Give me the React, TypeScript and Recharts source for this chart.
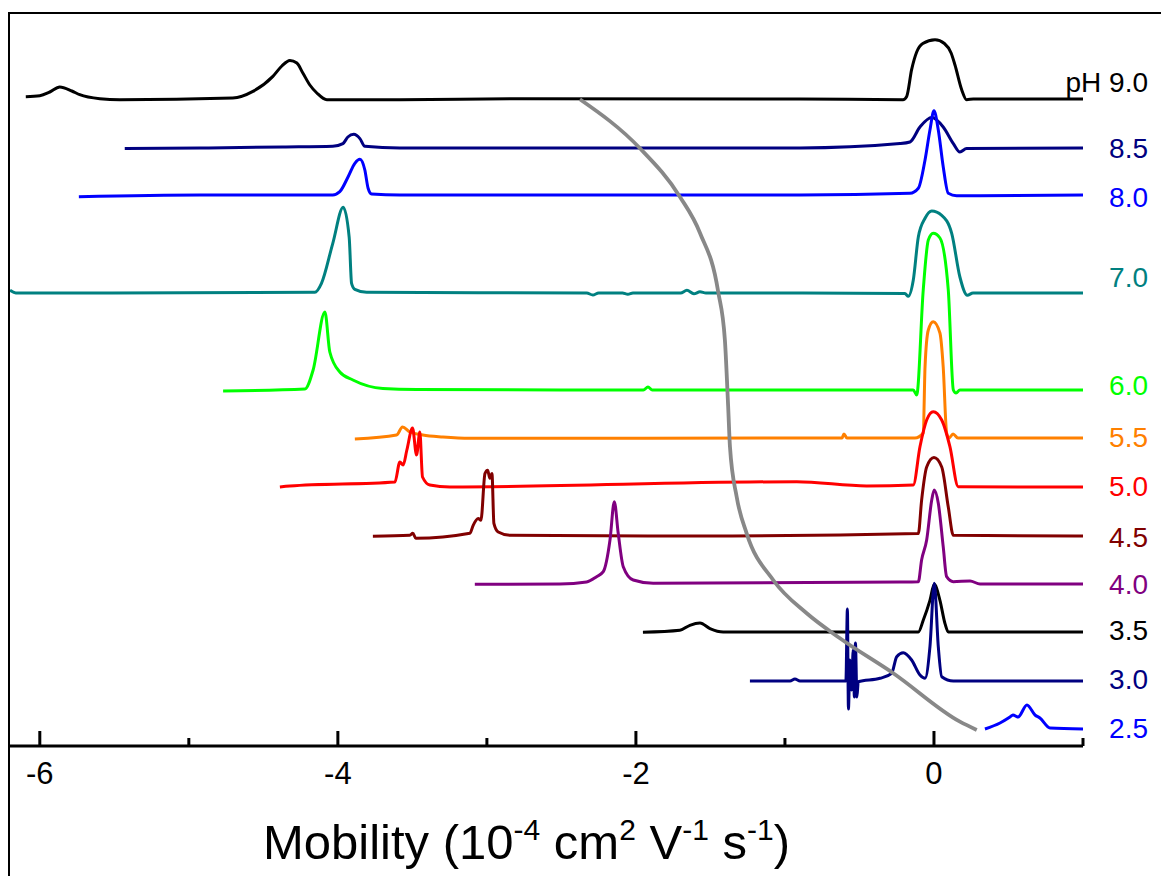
import { LineChart, Line, XAxis, YAxis, ReferenceDot } from "recharts"

// each trace: [mobility, signal above its own baseline]
const ph90: [number, number][] = [
  [-6.094, 2.3], [-6.0, 3.3], [-5.933, 7], [-5.866, 12], [-5.785, 8], [-5.732, 4.3], [-5.597, 0.3],
  [-5.463, -0.7], [-4.705, 1], [-4.57, 7.6], [-4.436, 22.6], [-4.376, 33], [-4.322, 38.6], [-4.275, 36],
  [-4.235, 26], [-4.188, 14], [-4.141, 6], [-4.074, -0.7], [-3.584, -0.7], [-2.779, 0.3], [-0.899, 0],
  [-0.208, -0.7], [-0.183, 2.6], [-0.15, 29.3], [-0.116, 47], [-0.075, 55.5], [0.007, 59.3],
  [0.07, 55.5], [0.115, 46], [0.141, 34], [0.186, 9.3], [0.219, -0.7], [0.264, 0], [1.0, 0],
]
const ph85: [number, number][] = [
  [-5.43, -0.6], [-4.926, 0], [-4.369, 1], [-4.034, 1.7], [-3.966, 4.4], [-3.933, 11], [-3.893, 13.7],
  [-3.852, 9.4], [-3.819, 1.7], [-3.584, 0], [-0.899, 0], [-0.228, 4.4], [-0.161, 6], [-0.094, 21],
  [-0.015, 30.4], [0.062, 21], [0.13, 4.4], [0.174, -4], [0.219, -0.6], [1.0, 0],
]
const ph80: [number, number][] = [
  [-5.738, -1.7], [-4.926, 0], [-4.034, 0], [-3.987, 3.3], [-3.931, 18.3], [-3.886, 31.7], [-3.852, 35.7],
  [-3.819, 25], [-3.797, 6.7], [-3.774, 1], [-3.584, 0], [-0.899, 0], [-0.161, 1.7], [-0.105, 6.7],
  [-0.06, 35], [-0.027, 65], [0, 84.3], [0.029, 65], [0.062, 28.3], [0.096, 1.7], [0.152, -0.7], [1.0, 0],
]
const ph70: [number, number][] = [
  [-6.2, 2.7], [-6.161, 0], [-4.154, 0.7], [-4.11, 9.7], [-4.034, 49.7], [-3.964, 85.7], [-3.924, 55.7],
  [-3.908, 9.7], [-3.886, 3.7], [-3.807, 0.7], [-2.33, 0], [-2.289, -2], [-2.25, 0], [-2.09, 0],
  [-2.054, -1.3], [-2.02, 0], [-1.7, 0], [-1.658, 2.7], [-1.611, -0.8], [-1.57, 1.2], [-1.53, 0],
  [-0.899, 0], [-0.195, -0.6], [-0.172, -3.3], [-0.139, 12.7], [-0.105, 56], [-0.06, 74.7],
  [-0.015, 82], [0.052, 77.7], [0.119, 59.7], [0.174, 16], [0.224, -2.3], [0.262, 0], [1.0, 0],
]
const ph60: [number, number][] = [
  [-4.77, -1], [-4.221, 1], [-4.166, 20], [-4.087, 78], [-4.054, 38], [-3.987, 18], [-3.899, 10],
  [-3.698, 1.5], [-3.472, 0.5], [-1.95, 0], [-1.919, 3], [-1.89, 0], [-0.899, 0], [-0.139, 0],
  [-0.116, -5], [-0.072, 100], [-0.038, 150], [-0.005, 156.7], [0.04, 152], [0.096, 100], [0.13, 0],
  [0.148, -3], [0.174, 0], [1.0, 0],
]
const ph55: [number, number][] = [
  [-3.886, -1], [-3.606, 3], [-3.566, 11], [-3.517, 6], [-3.43, 3], [-3.295, 1], [-3.114, -0.3],
  [-0.617, 0], [-0.604, 4], [-0.584, 0], [-0.128, 0], [-0.072, 5], [-0.06, 71], [-0.038, 108],
  [-0.005, 116.3], [0.04, 105], [0.062, 71], [0.085, 5], [0.101, 0], [0.128, 4], [0.161, 0], [1.0, 0],
]
const ph50: [number, number][] = [
  [-4.389, 0], [-4.322, 1], [-3.617, 5], [-3.584, 25], [-3.562, 22], [-3.537, 37], [-3.499, 59],
  [-3.472, 32], [-3.45, 55], [-3.432, 10], [-3.383, 2], [-3.248, 0], [-0.921, 5.3], [-0.452, 1],
  [-0.139, 2], [-0.094, 40.3], [-0.049, 67], [-0.005, 75.3], [0.052, 67], [0.107, 40.3], [0.163, 0.3],
  [1.0, 0],
]
const ph45: [number, number][] = [
  [-3.765, -0.3], [-3.517, 0.7], [-3.497, 2.7], [-3.477, -2.3], [-3.114, 2.7], [-3.092, 10.7],
  [-3.058, 17.4], [-3.04, 15.7], [-3.013, 62.4], [-2.995, 65.7], [-2.98, 57.7], [-2.966, 62.4],
  [-2.953, 12.7], [-2.924, 4], [-2.846, 0.7], [-1.57, 0], [-0.105, 2.4], [-0.083, 35.7], [-0.049, 69],
  [0, 78.4], [0.052, 69], [0.096, 29], [0.13, 0.7], [1.0, 0],
]
const ph40: [number, number][] = [
  [-3.081, -0.3], [-2.51, 0], [-2.331, 2], [-2.264, 7.3], [-2.219, 12.3], [-2.174, 44], [-2.145, 82.3],
  [-2.119, 51], [-2.085, 17.3], [-2.018, 4], [-1.884, 0.7], [-0.228, 2], [-0.105, 2.3], [-0.083, 24],
  [-0.049, 44], [-0.015, 84], [0.002, 94], [0.029, 80.7], [0.062, 37.3], [0.085, 7.3], [0.13, 2.3],
  [0.242, 3], [0.309, 0], [1.0, 0],
]
const ph35: [number, number][] = [
  [-1.953, -0.3], [-1.705, 1.7], [-1.638, 6.7], [-1.57, 9], [-1.503, 3.4], [-1.414, 0], [-0.105, 0],
  [-0.072, 11.7], [-0.027, 31.7], [0.002, 47.7], [0.04, 31.7], [0.074, 8.4], [0.096, 0], [1.0, 0],
]
const ph30: [number, number][] = [
  [-1.235, 0], [-0.966, 0], [-0.933, 2], [-0.899, 0], [-0.591, 0], [-0.581, 72], [-0.574, -28],
  [-0.564, 21], [-0.553, -9], [-0.542, 31], [-0.534, -16], [-0.527, 38], [-0.517, -16], [-0.508, -0.7],
  [-0.362, 2.7], [-0.284, 7.7], [-0.25, 24.3], [-0.206, 28.3], [-0.15, 21], [-0.094, 6], [-0.06, 2.7],
  [-0.027, 34.3], [0.002, 97.7], [0.029, 34.3], [0.052, 4.3], [0.13, 0], [1.0, 0],
]
const ph25: [number, number][] = [
  [0.342, 0], [0.443, 6], [0.51, 12], [0.53, 14], [0.564, 12], [0.624, 24], [0.678, 14], [0.711, 11],
  [0.779, 1], [1.0, 0],
]

// mobility of the main peak vs pH (absolute height on the stacked scale)
const titration: [number, number][] = [
  [-2.376, 646.7], [-1.973, 597.7], [-1.705, 549.3], [-1.57, 513], [-1.448, 454.3], [-1.403, 406],
  [-1.381, 339.3], [-1.369, 299.3], [-1.324, 249.3], [-1.257, 212.7], [-1.079, 166], [-0.854, 132.7],
  [-0.631, 107.7], [-0.273, 72.7], [0.174, 24.3], [0.287, 16],
]

const phLabels = ["pH 9.0", "8.5", "8.0", "7.0", "6.0", "5.5", "5.0", "4.5", "4.0", "3.5", "3.0", "2.5"]
const baselines = [647, 598, 551, 453, 356, 308, 259, 210, 162, 114, 65, 17]
const traces = [ph90, ph85, ph80, ph70, ph60, ph55, ph50, ph45, ph40, ph35, ph30, ph25]
const xTicks = [-6, -5, -4, -3, -2, -1, 0, 1]

const colors = [
  "#000000", "#000080", "#0000ff", "#008080", "#00ff00", "#ff8000",
  "#ff0000", "#800000", "#800080", "#000000", "#000080", "#0000ff",
]
// how far each label sits above its baseline
const labelLift = [17, 0, -2, 16, 5, 1, 1, -1, 0, 2, 2, 1]

const FONT = "'Liberation Sans', Arial, sans-serif"

function MobilityTick(props: any) {
  const { x, y, payload } = props
  const major = payload.value % 2 === 0
  return (
    <g>
      <line x1={x} x2={x} y1={y} y2={y - (major ? 15 : 8)} stroke="#000" strokeWidth={3} />
      {major && payload.value <= 0 && (
        <text x={x} y={y + 38} textAnchor="middle" fontSize={31} fontFamily={FONT} fill="#000">
          {payload.value}
        </text>
      )}
    </g>
  )
}

function AxisTitle(props: any) {
  const vb = props.viewBox
  const cx = vb.x + vb.width / 2 - 20
  return (
    <text x={cx} y={vb.y + 113} textAnchor="middle" fontSize={49} fontFamily={FONT} fill="#000">
      Mobility (10
      <tspan dy={-19} fontSize={30}>-4</tspan>
      <tspan dy={19}> cm</tspan>
      <tspan dy={-19} fontSize={30}>2</tspan>
      <tspan dy={19}> V</tspan>
      <tspan dy={-19} fontSize={30}>-1</tspan>
      <tspan dy={19}> s</tspan>
      <tspan dy={-19} fontSize={30}>-1</tspan>
      <tspan dy={19}>)</tspan>
    </text>
  )
}

export default function App() {
  return (
    <div style={{ position: "absolute", left: 0, top: 0, width: 1161, height: 876, background: "#fff", overflow: "hidden", fontFamily: FONT }}>
      <div style={{ position: "absolute", left: 8, top: 12, width: 1200, height: 900, borderTop: "2px solid #000", borderLeft: "2px solid #000" }} />
      <div style={{ position: "absolute", left: 0, top: 0 }}>
        <LineChart width={1161} height={876} margin={{ top: 10, right: 78, bottom: 0, left: 10 }}>
          <XAxis
            dataKey="x"
            type="number"
            domain={[-6.2, 1]}
            ticks={xTicks}
            allowDataOverflow
            height={130}
            tickLine={false}
            tickSize={0}
            tickMargin={0}
            axisLine={{ stroke: "#000", strokeWidth: 3 }}
            tick={<MobilityTick />}
            label={{ content: (p: any) => <AxisTitle {...p} /> }}
          />
          <YAxis type="number" domain={[0, 736]} hide allowDataOverflow />
          {traces.map((pts, i) => (
            <Line
              key={phLabels[i]}
              data={pts.map(([x, y]) => ({ x, y: y + baselines[i] }))}
              dataKey="y"
              type="monotone"
              stroke={colors[i]}
              strokeWidth={3}
              dot={false}
              isAnimationActive={false}
            />
          ))}
          <Line
            data={titration.map(([x, y]) => ({ x, y }))}
            dataKey="y"
            type="monotone"
            stroke="#888888"
            strokeWidth={3.8}
            dot={false}
            isAnimationActive={false}
          />
          {phLabels.map((name, i) => (
            <ReferenceDot
              key={"lbl" + name}
              x={1}
              y={baselines[i] + labelLift[i]}
              r={0}
              fill="none"
              stroke="none"
              label={{
                content: (p: any) => (
                  <text
                    x={p.viewBox.x + 65}
                    y={p.viewBox.y}
                    textAnchor="end"
                    dominantBaseline="central"
                    fontSize={28}
                    fontFamily={FONT}
                    fill={colors[i]}
                  >
                    {name}
                  </text>
                ),
              }}
            />
          ))}
        </LineChart>
      </div>
    </div>
  )
}
